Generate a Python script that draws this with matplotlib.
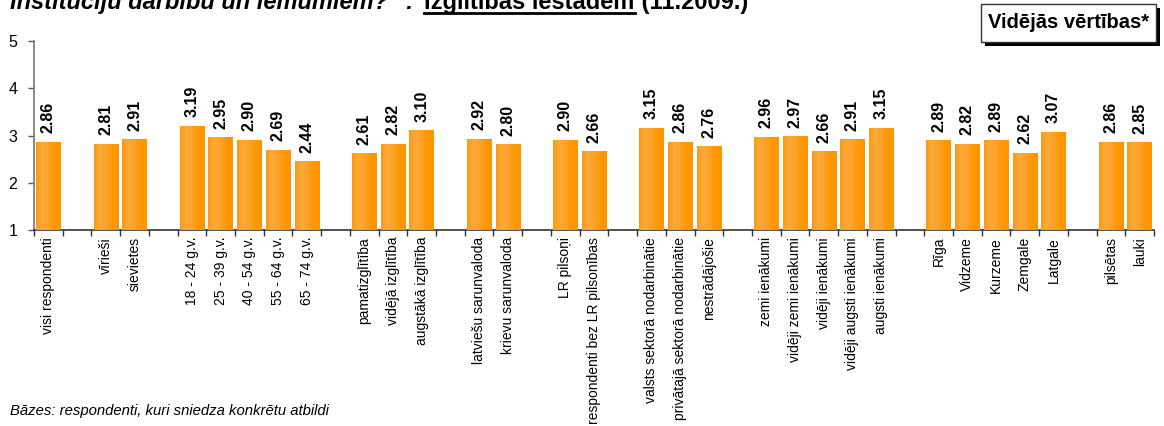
import numpy as np
import matplotlib
matplotlib.use("Agg")
import matplotlib.pyplot as plt
from matplotlib.colors import LinearSegmentedColormap
from matplotlib.patches import Rectangle

plt.rcParams['font.family'] = ['Liberation Sans', 'DejaVu Sans']

categories = [
    "visi respondenti", "",
    "vīrieši", "sievietes", "",
    "18 - 24 g.v.", "25 - 39 g.v.", "40 - 54 g.v.", "55 - 64 g.v.", "65 - 74 g.v.", "",
    "pamatizglītība", "vidējā izglītība", "augstākā izglītība", "",
    "latviešu sarunvaloda", "krievu sarunvaloda", "",
    "LR pilsoņi", "respondenti bez LR pilsonības", "",
    "valsts sektorā nodarbinātie", "privātajā sektorā nodarbinātie", "nestrādājošie", "",
    "zemi ienākumi", "vidēji zemi ienākumi", "vidēji ienākumi", "vidēji augsti ienākumi", "augsti ienākumi", "",
    "Rīga", "Vidzeme", "Kurzeme", "Zemgale", "Latgale", "",
    "pilsētas", "lauki",
]
values = [
    2.86, None,
    2.81, 2.91, None,
    3.19, 2.95, 2.90, 2.69, 2.44, None,
    2.61, 2.82, 3.10, None,
    2.92, 2.80, None,
    2.90, 2.66, None,
    3.15, 2.86, 2.76, None,
    2.96, 2.97, 2.66, 2.91, 3.15, None,
    2.89, 2.82, 2.89, 2.62, 3.07, None,
    2.86, 2.85,
]
y_ticks = [1, 2, 3, 4, 5]
title_part1 = 'Institūciju darbību un lēmumiem?" : '
title_part2 = 'Izglītības iestādēm'
title_part3 = ' (11.2009.)'
box_text = "Vidējās vērtības*"
footnote = "Bāzes: respondenti, kuri sniedza konkrētu atbildi"

W, H = 1164, 426
fig = plt.figure(figsize=(W / 100, H / 100), dpi=100)
ax = fig.add_axes([34 / W, 1 - 230 / H, (1154 - 34) / W, (230 - 41) / H])

n = len(categories)
x = np.arange(n)
bw = 0.85
base = 1.0
cmap = LinearSegmentedColormap.from_list(
    "bar", ["#FA9A14", "#FCAA38", "#FBA22A", "#FF9800", "#FF9400"])
grad = np.linspace(0, 1, 64).reshape(1, -1)

for xi, v in zip(x, values):
    if v is None:
        continue
    ax.bar(xi, v - base, bottom=base, width=bw, color="#FB9E20", linewidth=0, zorder=2)
    ax.imshow(grad, cmap=cmap, extent=[xi - bw / 2, xi + bw / 2, base, v],
              aspect="auto", zorder=3, interpolation="bilinear")
    ax.annotate(f"{v:.2f}", xy=(xi, v), xytext=(0, 6.5), textcoords="offset points",
                rotation=90, ha="center", va="bottom", fontsize=11.5, fontweight="bold",
                color="black", zorder=4)

ax.set_xlim(-0.5, n - 0.5)
ax.set_ylim(1, 5)
ax.set_yticks(y_ticks)
ax.set_yticklabels([str(t) for t in y_ticks], fontsize=11.5)
ax.set_xticks(np.arange(n + 1) - 0.5)
ax.set_xticklabels([])
ax.set_xticks(x, minor=True)
ax.set_xticklabels(categories, minor=True, rotation=90, fontsize=10, va="top", ha="center")
ax.tick_params(axis="x", which="minor", length=0, pad=5)
ax.tick_params(axis="x", which="major", length=4, width=1, color="#333333", direction="out")
ax.tick_params(axis="y", length=4, width=1, color="#555555", direction="out", pad=8)
for s in ["top", "right"]:
    ax.spines[s].set_visible(False)
ax.spines["left"].set_color("#777777")
ax.spines["left"].set_linewidth(1.2)
ax.spines["bottom"].set_color("#333333")
ax.spines["bottom"].set_linewidth(1.2)

# Title (clipped at top, as in the reference)
ty = 1 - 9 / H
tfs = 17
t1 = fig.text(10 / W, ty, title_part1, fontsize=tfs, fontweight="bold",
              fontstyle="italic", ha="left", va="baseline")
fig.canvas.draw()
r = fig.canvas.get_renderer()
bb1 = t1.get_window_extent(r)
t2 = fig.text((bb1.x1 + 4) / W, ty, title_part2, fontsize=tfs, fontweight="bold",
              ha="left", va="baseline")
bb2 = t2.get_window_extent(r)
fig.add_artist(plt.Line2D([bb2.x0 / W, bb2.x1 / W], [1 - 12.5 / H, 1 - 12.5 / H],
                          color="black", linewidth=2))
fig.text(bb2.x1 / W, ty, title_part3, fontsize=tfs, fontweight="bold",
         ha="left", va="baseline")

# Box with shadow
bx0, by0, bx1, by1 = 981, 4, 1156, 42
fig.add_artist(Rectangle(((bx0 + 4) / W, 1 - (by1 + 4) / H), (bx1 - bx0) / W, (by1 - by0) / H,
                         transform=fig.transFigure, facecolor="black", edgecolor="none"))
fig.add_artist(Rectangle((bx0 / W, 1 - by1 / H), (bx1 - bx0) / W, (by1 - by0) / H,
                         transform=fig.transFigure, facecolor="white", edgecolor="#333333",
                         linewidth=1))
fig.text((bx0 + bx1) / 2 / W, 1 - (by0 + by1) / 2 / H, box_text, fontsize=14.5,
         fontweight="bold", ha="center", va="center")

fig.text(10 / W, 1 - 415 / H, footnote, fontsize=10.7, fontstyle="italic",
         ha="left", va="baseline")

fig.savefig("out.png", dpi=100)
